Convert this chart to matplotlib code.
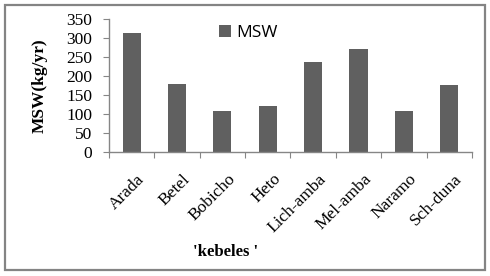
import matplotlib
matplotlib.use("Agg")
import matplotlib.pyplot as plt
from matplotlib.patches import Rectangle
from matplotlib.transforms import ScaledTranslation

categories = ["Arada", "Betel", "Bobicho", "Heto", "Lich-amba", "Mel-amba", "Naramo", "Sch-duna"]
msw = [313, 178, 107, 120, 236, 270, 107, 176]
yticks = [0, 50, 100, 150, 200, 250, 300, 350]

fig = plt.figure(figsize=(4.9, 2.76), dpi=100)
ax = fig.add_axes([0.2224, 0.451, 0.7406, 0.48])

x = list(range(len(categories)))
bars = ax.bar(x, msw, width=0.4, color="#606060", label="MSW", zorder=2)

ax.set_xlim(-0.5, len(categories) - 0.5)
ax.set_ylim(0, 350)
ax.set_yticks(yticks)
ax.set_yticklabels([str(v) for v in yticks], fontfamily="Liberation Serif", fontsize=12.5)

ax.set_xticks([i - 0.5 for i in range(len(categories) + 1)])
ax.set_xticklabels([])
ax.set_xticks(x, minor=True)
ax.set_xticklabels(categories, minor=True, rotation=45, ha="right", va="top",
                   rotation_mode="anchor", fontfamily="Liberation Serif", fontsize=12.5)
ax.tick_params(axis="x", which="minor", length=0, pad=14)
ax.tick_params(axis="x", which="major", length=4, color="#868686", direction="out")
ax.tick_params(axis="y", length=4, color="#868686", direction="out", pad=8)

off = ScaledTranslation(5 / 100, 0, fig.dpi_scale_trans)
for lbl in ax.get_xticklabels(minor=True):
    lbl.set_transform(lbl.get_transform() + off)

for s in ["top", "right"]:
    ax.spines[s].set_visible(False)
for s in ["left", "bottom"]:
    ax.spines[s].set_color("#868686")
    ax.spines[s].set_linewidth(1)

ax.set_ylabel("MSW(kg/yr)", fontfamily="Liberation Serif", fontweight="bold", fontsize=12.5)
ax.yaxis.set_label_coords(-0.168, 0.5)
fig.text(0.461, 0.088, "'kebeles '", fontfamily="Liberation Serif", fontweight="bold",
         fontsize=12, ha="center", va="center")

leg = ax.legend(loc="upper left", bbox_to_anchor=(0.27, 1.05), frameon=False,
                prop={"family": "Open Sans", "size": 12.5}, handlelength=0.7, handleheight=0.7,
                handletextpad=0.3, borderpad=0.2)

fig.patches.append(Rectangle((5 / 490, 1 - 270 / 276), 480 / 490, 265.5 / 276,
                             transform=fig.transFigure, fill=False, edgecolor="#848484",
                             linewidth=1.6))

fig.savefig("out.png", dpi=100)
